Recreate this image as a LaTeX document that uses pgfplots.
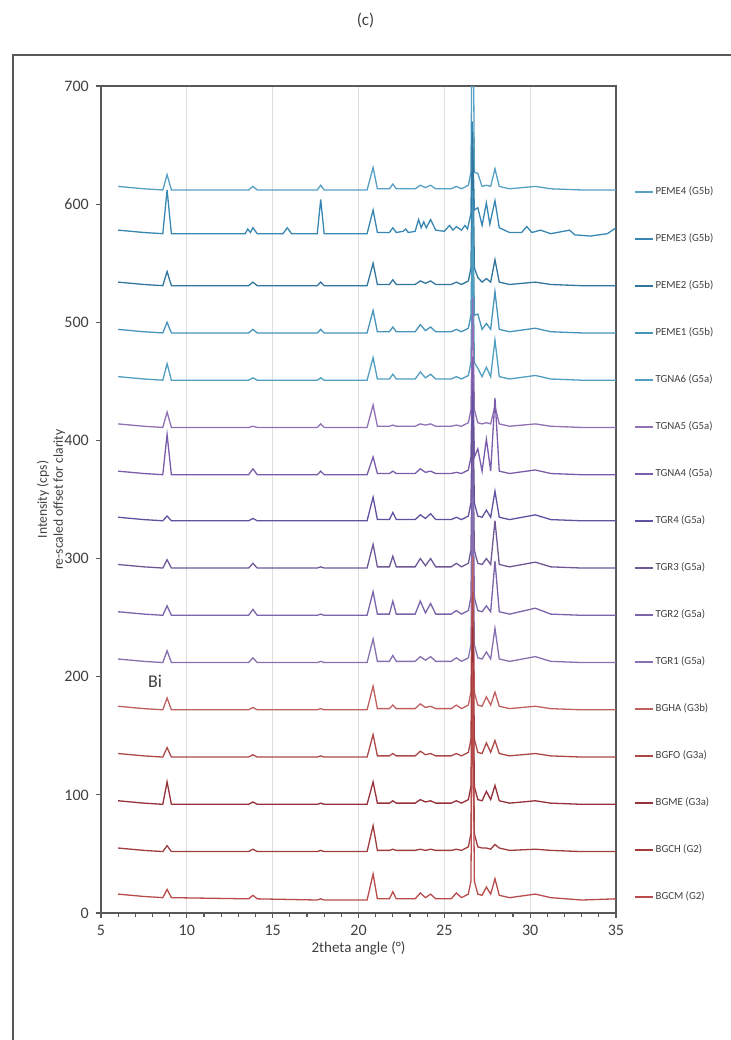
\documentclass[border=0pt]{standalone}
\usepackage{fontspec}
\setmainfont{Carlito}
\usepackage{pgfplots}
\pgfplotsset{compat=1.18}
\definecolor{axgray}{RGB}{89,89,89}
\definecolor{gridgray}{RGB}{222,222,222}
\definecolor{txtgray}{RGB}{64,64,64}
\definecolor{cPEMEiv}{RGB}{86,160,196}
\definecolor{cPEMEiii}{RGB}{55,135,178}
\definecolor{cPEMEii}{RGB}{50,118,158}
\definecolor{cPEMEi}{RGB}{70,148,186}
\definecolor{cTGNAvi}{RGB}{80,158,192}
\definecolor{cTGNAv}{RGB}{145,112,182}
\definecolor{cTGNAiv}{RGB}{122,92,170}
\definecolor{cTGRiv}{RGB}{98,80,160}
\definecolor{cTGRiii}{RGB}{110,88,150}
\definecolor{cTGRii}{RGB}{122,100,170}
\definecolor{cTGRi}{RGB}{135,112,176}
\definecolor{cBGHA}{RGB}{192,95,95}
\definecolor{cBGFO}{RGB}{172,72,72}
\definecolor{cBGME}{RGB}{150,48,58}
\definecolor{cBGCH}{RGB}{160,60,60}
\definecolor{cBGCM}{RGB}{185,75,75}
\begin{document}
\begin{tikzpicture}
\useasboundingbox (0pt,0pt) rectangle (365.5pt,-520pt);
\draw[axgray, line width=0.8pt] (6.5pt,-520pt) -- (6.5pt,-27.5pt) -- (365.5pt,-27.5pt);
\node[font=\fontsize{8.5}{10}\selectfont, text=txtgray] at (182.75pt,-10pt) {(c)};
\begin{axis}[
  at={(50.5pt,-456.5pt)}, anchor=south west,
  width=257.5pt, height=413.5pt, scale only axis,
  xmin=5, xmax=35, ymin=0, ymax=700,
  xtick={5,10,...,35}, ytick={0,100,...,700},
  minor x tick num=4,
  tick align=outside,
  major tick length=2.6pt, minor tick length=2pt,
  xtick pos=bottom, ytick pos=left,
  ymajorgrids=false, xmajorgrids=true,
  major grid style={gridgray, line width=0.5pt},
  axis line style={axgray, line width=0.9pt},
  every tick/.style={axgray, line width=0.6pt},
  tick label style={font=\fontsize{8}{9}\selectfont, text=txtgray},
  /pgf/number format/assume math mode=true,
  xlabel={2theta angle (\textdegree)},
  xlabel style={font=\fontsize{7.5}{9}\selectfont, text=txtgray, at={(axis description cs:0.5,-0.0423)}, anchor=center},
  ylabel={Intensity (cps)\\re-scaled offset for clarity},
  ylabel style={font=\fontsize{6.8}{8}\selectfont, text=txtgray, align=center, at={(axis description cs:-0.097,0.5)}, anchor=center},
  legend style={at={(axis description cs:1.035,0.8779)}, anchor=north west, draw=none, fill=none,
    font=\fontsize{5.4}{6}\selectfont, text=txtgray, inner sep=0pt, outer sep=0pt, row sep=18.5pt,
    nodes={inner sep=0pt, text height=4pt, text depth=1pt}},
  /tikz/every odd column/.append style={column sep=1.2pt},
  legend cell align=left,
  legend image code/.code={\draw[#1, line width=0.6pt] (0pt,0pt) -- (9pt,0pt);},
  every axis plot/.append style={line width=0.65pt, mark=none},
]
\addplot[cPEMEiv] coordinates {(6,615) (7.5,613) (8.6,612) (8.85,625) (9.1,612) (13.6,612) (13.85,615) (14.1,612) (17.6,612) (17.8,616) (18.0,612) (20.5,612) (20.85,631) (21.1,613) (21.8,613) (22.0,617) (22.2,613) (23.3,613) (23.6,616) (23.9,614) (24.2,616) (24.5,613) (25.4,613) (25.7,615) (26.0,613) (26.4,616) (26.55,627) (26.65,812) (26.75,627) (26.95,626) (27.2,615) (27.45,616) (27.7,615) (27.95,630) (28.2,615) (28.8,613) (30.3,615) (31.2,613) (33,612) (35,612)};
\addlegendentry{PEME4 (G5b)}
\addplot[cPEMEiii] coordinates {(6,578) (7.5,576) (8.6,575) (8.85,612) (9.1,575) (13.4,575) (13.55,579) (13.7,576) (13.85,580) (14.1,575) (15.6,575) (15.85,580) (16.1,575) (17.6,575) (17.8,604) (18.0,575) (20.5,575) (20.85,595) (21.1,576) (21.8,576) (22.0,580) (22.2,576) (22.6,577) (22.75,579) (22.9,576) (23.3,577) (23.5,587) (23.65,580) (23.8,585) (23.95,580) (24.2,587) (24.5,578) (25.0,577) (25.3,582) (25.5,578) (25.7,581) (26.0,578) (26.2,582) (26.35,579) (26.55,592) (26.62,670) (26.75,595) (26.95,597) (27.2,582) (27.45,601) (27.65,583) (27.95,603) (28.2,580) (28.8,576) (29.5,576) (29.8,581) (30.1,576) (30.6,578) (31.2,575) (32.3,578) (32.6,574) (33.5,573) (34.5,575) (35,580)};
\addlegendentry{PEME3 (G5b)}
\addplot[cPEMEii] coordinates {(6,534) (7.5,532) (8.6,531) (8.85,543) (9.1,531) (13.6,531) (13.85,534) (14.1,531) (17.6,531) (17.8,534) (18.0,531) (20.5,531) (20.85,550) (21.1,532) (21.8,532) (22.0,536) (22.2,532) (23.3,532) (23.6,535) (23.9,533) (24.2,535) (24.5,532) (25.4,532) (25.7,534) (26.0,532) (26.4,535) (26.55,546) (26.65,661) (26.75,546) (26.95,538) (27.2,534) (27.45,537) (27.7,534) (27.95,553) (28.2,534) (28.8,532) (30.3,534) (31.2,532) (33,531) (35,531)};
\addlegendentry{PEME2 (G5b)}
\addplot[cPEMEi] coordinates {(6,494) (7.5,492) (8.6,491) (8.85,500) (9.1,491) (13.6,491) (13.85,494) (14.1,491) (17.6,491) (17.8,494) (18.0,491) (20.5,491) (20.85,510) (21.1,492) (21.8,492) (22.0,496) (22.2,492) (23.3,492) (23.6,498) (23.9,493) (24.2,496) (24.5,492) (25.4,492) (25.7,494) (26.0,492) (26.4,495) (26.55,506) (26.65,611) (26.75,506) (26.95,507) (27.2,494) (27.45,499) (27.7,494) (27.95,526) (28.2,494) (28.8,492) (30.3,495) (31.2,492) (33,491) (35,491)};
\addlegendentry{PEME1 (G5b)}
\addplot[cTGNAvi] coordinates {(6,454) (7.5,452) (8.6,451) (8.85,465) (9.1,451) (13.6,451) (13.85,453) (14.1,451) (17.6,451) (17.8,453) (18.0,451) (20.5,451) (20.85,470) (21.1,452) (21.8,452) (22.0,456) (22.2,452) (23.3,452) (23.6,458) (23.9,453) (24.2,456) (24.5,452) (25.4,452) (25.7,454) (26.0,452) (26.4,455) (26.55,466) (26.65,571) (26.75,466) (26.95,461) (27.2,454) (27.45,462) (27.7,454) (27.95,485) (28.2,454) (28.8,452) (30.3,455) (31.2,452) (33,451) (35,451)};
\addlegendentry{TGNA6 (G5a)}
\addplot[cTGNAv] coordinates {(6,414) (7.5,412) (8.6,411) (8.85,424) (9.1,411) (13.6,411) (13.85,412) (14.1,411) (17.6,411) (17.8,414) (18.0,411) (20.5,411) (20.85,430) (21.1,412) (21.8,412) (22.0,413) (22.2,412) (23.3,412) (23.6,414) (23.9,413) (24.2,414) (24.5,412) (25.4,412) (25.7,413) (26.0,412) (26.4,415) (26.55,426) (26.65,521) (26.75,426) (26.95,415) (27.2,414) (27.45,415) (27.7,414) (27.95,429) (28.2,414) (28.8,412) (30.3,414) (31.2,412) (33,411) (35,411)};
\addlegendentry{TGNA5 (G5a)}
\addplot[cTGNAiv] coordinates {(6,374) (7.5,372) (8.6,371) (8.85,405) (9.1,371) (13.6,371) (13.85,376) (14.1,371) (17.6,371) (17.8,374) (18.0,371) (20.5,371) (20.85,386) (21.1,372) (21.8,372) (22.0,374) (22.2,372) (23.3,372) (23.6,376) (23.9,373) (24.2,374) (24.5,372) (25.4,372) (25.7,373) (26.0,372) (26.4,375) (26.55,386) (26.65,471) (26.75,386) (26.95,393) (27.2,374) (27.45,401) (27.7,374) (27.95,436) (28.2,374) (28.8,372) (30.3,375) (31.2,372) (33,371) (35,371)};
\addlegendentry{TGNA4 (G5a)}
\addplot[cTGRiv] coordinates {(6,335) (7.5,333) (8.6,332) (8.85,336) (9.1,332) (13.6,332) (13.85,334) (14.1,332) (17.6,332) (17.8,332) (18.0,332) (20.5,332) (20.85,352) (21.1,333) (21.8,333) (22.0,339) (22.2,333) (23.3,333) (23.6,337) (23.9,334) (24.2,338) (24.5,333) (25.4,333) (25.7,335) (26.0,333) (26.4,336) (26.55,347) (26.65,442) (26.75,347) (26.95,336) (27.2,335) (27.45,341) (27.7,335) (27.95,357) (28.2,335) (28.8,333) (30.3,337) (31.2,333) (33,332) (35,332)};
\addlegendentry{TGR4 (G5a)}
\addplot[cTGRiii] coordinates {(6,295) (7.5,293) (8.6,292) (8.85,299) (9.1,292) (13.6,292) (13.85,296) (14.1,292) (17.6,292) (17.8,293) (18.0,292) (20.5,292) (20.85,312) (21.1,293) (21.8,293) (22.0,302) (22.2,293) (23.3,293) (23.6,300) (23.9,294) (24.2,300) (24.5,293) (25.4,293) (25.7,296) (26.0,293) (26.4,296) (26.55,307) (26.65,412) (26.75,307) (26.95,296) (27.2,295) (27.45,300) (27.7,295) (27.95,332) (28.2,295) (28.8,293) (30.3,297) (31.2,293) (33,292) (35,292)};
\addlegendentry{TGR3 (G5a)}
\addplot[cTGRii] coordinates {(6,255) (7.5,253) (8.6,252) (8.85,260) (9.1,252) (13.6,252) (13.85,257) (14.1,252) (17.6,252) (17.8,253) (18.0,252) (20.5,252) (20.85,272) (21.1,253) (21.8,253) (22.0,264) (22.2,253) (23.3,253) (23.6,264) (23.9,254) (24.2,262) (24.5,253) (25.4,253) (25.7,256) (26.0,253) (26.4,256) (26.55,267) (26.65,382) (26.75,267) (26.95,256) (27.2,255) (27.45,260) (27.7,255) (27.95,298) (28.2,255) (28.8,253) (30.3,258) (31.2,253) (33,252) (35,252)};
\addlegendentry{TGR2 (G5a)}
\addplot[cTGRi] coordinates {(6,215) (7.5,213) (8.6,212) (8.85,222) (9.1,212) (13.6,212) (13.85,216) (14.1,212) (17.6,212) (17.8,213) (18.0,212) (20.5,212) (20.85,232) (21.1,213) (21.8,213) (22.0,218) (22.2,213) (23.3,213) (23.6,217) (23.9,214) (24.2,217) (24.5,213) (25.4,213) (25.7,216) (26.0,213) (26.4,216) (26.55,227) (26.65,352) (26.75,227) (26.95,216) (27.2,215) (27.45,221) (27.7,215) (27.95,241) (28.2,215) (28.8,213) (30.3,217) (31.2,213) (33,212) (35,212)};
\addlegendentry{TGR1 (G5a)}
\addplot[cBGHA] coordinates {(6,175) (7.5,173) (8.6,172) (8.85,182) (9.1,172) (13.6,172) (13.85,174) (14.1,172) (17.6,172) (17.8,173) (18.0,172) (20.5,172) (20.85,192) (21.1,173) (21.8,173) (22.0,176) (22.2,173) (23.3,173) (23.6,177) (23.9,174) (24.2,175) (24.5,173) (25.4,173) (25.7,176) (26.0,173) (26.4,176) (26.55,187) (26.65,302) (26.75,187) (26.95,176) (27.2,175) (27.45,183) (27.7,176) (27.95,187) (28.2,175) (28.8,173) (30.3,175) (31.2,173) (33,172) (35,172)};
\addlegendentry{BGHA (G3b)}
\addplot[cBGFO] coordinates {(6,135) (7.5,133) (8.6,132) (8.85,140) (9.1,132) (13.6,132) (13.85,134) (14.1,132) (17.6,132) (17.8,133) (18.0,132) (20.5,132) (20.85,151) (21.1,133) (21.8,133) (22.0,135) (22.2,133) (23.3,133) (23.6,137) (23.9,134) (24.2,135) (24.5,133) (25.4,133) (25.7,135) (26.0,133) (26.4,136) (26.55,147) (26.65,272) (26.75,147) (26.95,136) (27.2,135) (27.45,144) (27.7,136) (27.95,146) (28.2,135) (28.8,133) (30.3,135) (31.2,133) (33,132) (35,132)};
\addlegendentry{BGFO (G3a)}
\addplot[cBGME] coordinates {(6,95) (7.5,93) (8.6,92) (8.85,111) (9.1,92) (13.6,92) (13.85,94) (14.1,92) (17.6,92) (17.8,93) (18.0,92) (20.5,92) (20.85,111) (21.1,93) (21.8,93) (22.0,95) (22.2,93) (23.3,93) (23.6,96) (23.9,94) (24.2,95) (24.5,93) (25.4,93) (25.7,95) (26.0,93) (26.4,96) (26.55,107) (26.65,242) (26.75,107) (26.95,96) (27.2,95) (27.45,103) (27.7,96) (27.95,108) (28.2,95) (28.8,93) (30.3,95) (31.2,93) (33,92) (35,92)};
\addlegendentry{BGME (G3a)}
\addplot[cBGCH] coordinates {(6,55) (7.5,53) (8.6,52) (8.85,57) (9.1,52) (13.6,52) (13.85,54) (14.1,52) (17.6,52) (17.8,53) (18.0,52) (20.5,52) (20.85,74) (21.1,53) (21.8,53) (22.0,54) (22.2,53) (23.3,53) (23.6,54) (23.9,53) (24.2,54) (24.5,53) (25.4,53) (25.7,54) (26.0,53) (26.4,56) (26.55,67) (26.65,212) (26.75,67) (26.95,56) (27.2,55) (27.45,55) (27.7,54) (27.95,58) (28.2,55) (28.8,53) (30.3,54) (31.2,53) (33,52) (35,52)};
\addlegendentry{BGCH (G2)}
\addplot[cBGCM] coordinates {(6,16) (7.5,14) (8.6,13) (8.85,20) (9.1,13) (13.6,12) (13.85,15) (14.1,12) (17.6,11) (17.8,12) (18.0,11) (20.5,11) (20.85,33) (21.1,12) (21.8,12) (22.0,18) (22.2,12) (23.3,12) (23.6,17) (23.9,13) (24.2,16) (24.5,12) (25.4,12) (25.7,17) (26.0,13) (26.4,16) (26.55,27) (26.65,212) (26.75,27) (26.95,16) (27.2,15) (27.45,22) (27.7,16) (27.95,29) (28.2,15) (28.8,13) (30.3,16) (31.2,13) (33,11) (35,12)};
\addlegendentry{BGCM (G2)}
\node[font=\fontsize{9}{10}\selectfont, text=txtgray] at (axis cs:8.15,196) {Bi};
\end{axis}
\end{tikzpicture}
\end{document}
